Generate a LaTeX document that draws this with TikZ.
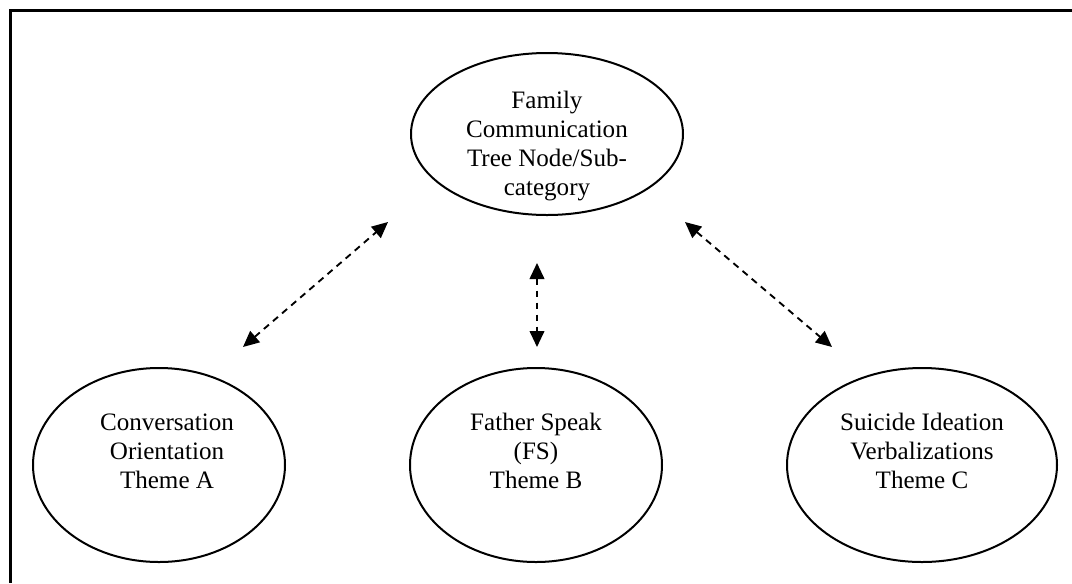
\documentclass[tikz,border=0pt]{standalone}
\usepackage{fontspec}
\setmainfont{Liberation Serif}
\usetikzlibrary{shapes.geometric,arrows.meta}
\tikzset{
  oval/.style={draw, ellipse, line width=1.5pt, inner sep=0pt},
  txt/.style={align=center, inner sep=0pt, font=\fontsize{18.8}{21.8}\selectfont},
  link/.style={dashed, line width=1.4pt, dash pattern=on 5pt off 4pt,
    {Triangle[length=12pt,width=11pt]}-{Triangle[length=12pt,width=11pt]}},
  frameline/.style={line width=2.2pt}
}
\begin{document}
\begin{tikzpicture}[x=0.75pt,y=-0.75pt]
\useasboundingbox (0,0) rectangle (1072,583);
% frame (top and left edges)
\coordinate (fA) at (1072,10.5);
\coordinate (fB) at (10.5,10.5);
\coordinate (fC) at (10.5,583);
\draw[frameline] (fA) -- (fB) -- (fC);
% ellipses
\node[oval, minimum width=272*0.75pt, minimum height=162*0.75pt] (top) at (547,134) {};
\node[oval, minimum width=252*0.75pt, minimum height=194*0.75pt] (left) at (159,465) {};
\node[oval, minimum width=252*0.75pt, minimum height=194*0.75pt] (mid) at (536,465) {};
\node[oval, minimum width=270*0.75pt, minimum height=194*0.75pt] (right) at (922,465) {};
% texts
\node[txt] (toptxt) at (547,146) {Family\\Communication\\Tree Node/Sub-\\category};
\node[txt] (lefttxt) at (167,451) {Conversation\\Orientation\\Theme A};
\node[txt] (midtxt) at (536,451) {Father Speak\\(FS)\\Theme B};
\node[txt] (righttxt) at (922,451) {Suicide Ideation\\Verbalizations\\Theme C};
% connectors
\coordinate (l1) at (243,347);
\coordinate (l2) at (388,222);
\coordinate (m1) at (537,263);
\coordinate (m2) at (537,347);
\coordinate (r1) at (685,222);
\coordinate (r2) at (832,347);
\draw[link] (l1) -- (l2);
\draw[link] (m1) -- (m2);
\draw[link] (r1) -- (r2);
\end{tikzpicture}
\end{document}
